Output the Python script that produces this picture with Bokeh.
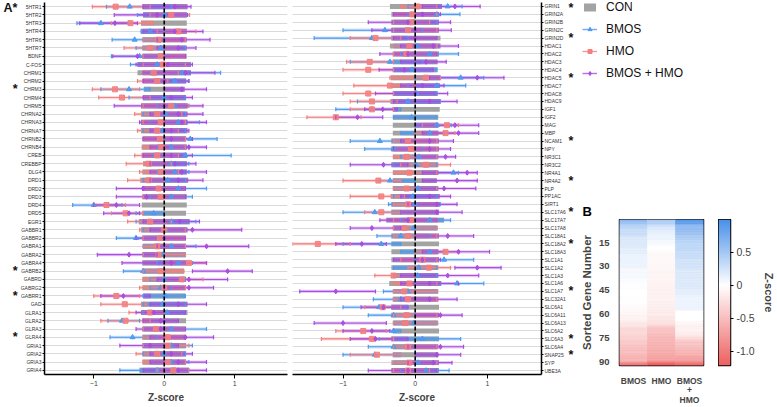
import numpy as np
from bokeh.plotting import figure
from bokeh.models import (ColumnDataSource, FactorRange, Range1d, Span, LinearAxis,
                          FixedTicker, LinearColorMapper, Legend, LegendItem)
from bokeh.layouts import row, column
from bokeh.transform import transform
from bokeh.core.properties import value
from bokeh.embed import file_html
from bokeh.resources import INLINE

FONT = "Liberation Sans"

# ---------------- data ----------------
genes = ["5HTR1", "5HTR2", "5HTR3", "5HTR4", "5HTR6", "5HTR7", "BDNF", "C-FOS", "CHRM1", "CHRM2",
         "CHRM3", "CHRM4", "CHRM5", "CHRNA2", "CHRNA3", "CHRNA7", "CHRNB2", "CHRNB4", "CREB", "CREBBP",
         "DLG4", "DRD1", "DRD2", "DRD3", "DRD4", "DRD5", "EGR1", "GABBR1", "GABBR2", "GABRA1",
         "GABRA2", "GABRA4", "GABRB2", "GABRD", "GABRG2", "GABRR1", "GAD", "GLRA1", "GLRA2", "GLRA3",
         "GLRA4", "GRIA1", "GRIA2", "GRIA3", "GRIA4",
         "GRIN1", "GRIN2A", "GRIN2B", "GRIN2C", "GRIN2D", "HDAC1", "HDAC2", "HDAC3", "HDAC4", "HDAC5",
         "HDAC7", "HDAC8", "HDAC9", "IGF1", "IGF2", "MAG", "MBP", "NCAM1", "NPY", "NR3C1",
         "NR3C2", "NR4A1", "NR4A2", "PLP", "PP1AC", "SIRT1", "SLC17A6", "SLC17A7", "SLC17A8", "SLC18A1",
         "SLC18A2", "SLC18A3", "SLC1A1", "SLC1A2", "SLC1A3", "SLC1A6", "SLC1A7", "SLC32A1", "SLC6A1", "SLC6A11",
         "SLC6A13", "SLC6A2", "SLC6A3", "SLC6A4", "SNAP25", "SYP", "UBE3A"]
n_left = 45
starred = ["5HTR1", "CHRM3", "GABRB2", "GABRR1", "GLRA4", "GRIN1", "GRIN2D", "HDAC5", "NCAM1",
           "NR4A2", "SLC17A6", "SLC18A2", "SLC1A7", "SLC6A3", "SNAP25"]

con_lo = [-0.31, -0.30, -0.33, -0.33, -0.31, -0.31, -0.31, -0.38, -0.38, -0.31,
          -0.29, -0.30, -0.33, -0.33, -0.33, -0.33, -0.31, -0.32, -0.32, -0.30,
          -0.31, -0.34, -0.31, -0.31, -0.32, -0.31, -0.36, -0.33, -0.31, -0.30,
          -0.31, -0.31, -0.31, -0.31, -0.31, -0.30, -0.33, -0.33, -0.31, -0.31,
          -0.31, -0.31, -0.31, -0.31, -0.35,
          -0.35, -0.33, -0.33, -0.33, -0.33, -0.35, -0.31, -0.31, -0.31, -0.34,
          -0.34, -0.31, -0.34, -0.31, -0.31, -0.31, -0.31, -0.33, -0.33, -0.31,
          -0.33, -0.31, -0.31, -0.31, -0.34, -0.33, -0.33, -0.40, -0.31, -0.33,
          -0.33, -0.33, -0.33, -0.33, -0.31, -0.36, -0.31, -0.31, -0.33, -0.33,
          -0.31, -0.31, -0.33, -0.31, -0.31, -0.33, -0.33]
con_hi = [0.33, 0.32, 0.32, 0.32, 0.32, 0.32, 0.32, 0.38, 0.38, 0.31,
          0.29, 0.31, 0.33, 0.33, 0.33, 0.33, 0.31, 0.32, 0.32, 0.32,
          0.32, 0.34, 0.31, 0.32, 0.32, 0.31, 0.36, 0.33, 0.31, 0.31,
          0.31, 0.32, 0.28, 0.31, 0.31, 0.30, 0.33, 0.33, 0.31, 0.31,
          0.31, 0.31, 0.31, 0.31, 0.35,
          0.37, 0.33, 0.33, 0.33, 0.35, 0.35, 0.33, 0.31, 0.31, 0.35,
          0.34, 0.31, 0.35, 0.34, 0.32, 0.32, 0.32, 0.33, 0.33, 0.32,
          0.32, 0.32, 0.30, 0.32, 0.34, 0.34, 0.33, 0.40, 0.31, 0.33,
          0.33, 0.32, 0.33, 0.32, 0.32, 0.36, 0.32, 0.32, 0.33, 0.33,
          0.32, 0.33, 0.33, 0.32, 0.32, 0.33, 0.33]

bmos_lo = [-0.82, -0.38, -1.24, -0.33, -0.74, -0.40, -0.75, -0.48, -0.20, -0.10,
           -0.90, -0.50, -0.10, -0.30, -0.20, -0.30, 0.00, -0.10, -0.15, -0.20,
           -0.10, -0.30, -0.10, -0.20, -1.30, -0.40, -0.40, -0.30, -0.68, -0.30,
           -0.30, -0.10, -0.58, -0.20, -0.20, -0.30, -0.30, -0.30, -0.80, -0.30,
           -0.77, -0.30, -0.30, -0.20, -0.63,
           -0.10, -0.10, -0.30, -1.00, -1.40, -0.30, -0.20, -0.90, -0.30, 0.00,
           -0.10, -0.30, -0.80, -1.10, -0.30, 0.00, -0.20, -0.90, -0.70, -0.20,
           -0.30, 0.00, -0.50, -0.30, -0.30, -0.37, -1.00, -0.20, -0.30, -0.53,
           -1.00, -0.20, 0.00, -0.30, -0.30, 0.00, -0.44, -0.58, -1.00, -0.65,
           -0.30, -0.60, -0.50, -0.65, -1.00, -0.30, -0.20]
bmos_mean = [-0.49, 0.00, -0.90, -0.20, -0.42, -0.05, -0.35, -0.10, 0.25, 0.15,
             -0.50, 0.00, 0.15, 0.02, 0.20, -0.02, 0.37, 0.10, 0.30, 0.10,
             0.15, 0.05, 0.20, 0.10, -1.00, -0.15, 0.10, 0.03, -0.40, 0.10,
             -0.03, 0.20, -0.30, 0.00, -0.05, 0.02, -0.02, 0.04, -0.60, 0.10,
             -0.45, 0.10, 0.00, 0.10, -0.10,
             0.45, 0.30, -0.02, -0.42, -0.60, 0.03, 0.20, -0.35, -0.04, 0.63,
             0.30, 0.02, -0.10, -0.60, -0.05, 0.30, 0.20, -0.49, -0.30, 0.05,
             0.01, 0.53, -0.35, 0.04, -0.03, 0.00, -0.56, 0.20, -0.02, -0.20,
             -0.47, 0.20, 0.40, 0.05, 0.03, 0.58, -0.10, -0.20, -0.50, -0.30,
             -0.02, -0.30, 0.10, -0.30, -0.56, 0.04, 0.15]
bmos_hi = [0.10, 0.32, -0.50, 0.00, 0.00, 0.30, 0.00, 0.30, 0.80, 0.35,
           -0.20, 0.30, 0.35, 0.30, 0.50, 0.30, 0.75, 0.35, 0.95, 0.35,
           0.35, 0.30, 0.60, 0.40, -0.60, 0.00, 0.45, 0.30, -0.10, 0.45,
           0.30, 0.40, 0.00, 0.30, 0.10, 0.30, 0.30, 0.30, -0.35, 0.60,
           -0.10, 0.40, 0.30, 0.35, 0.35,
           0.65, 0.62, 0.30, 0.10, -0.10, 0.30, 0.60, 0.10, 0.30, 0.95,
           0.70, 0.30, 0.35, -0.20, 0.30, 0.50, 0.40, -0.10, 0.10, 0.30,
           0.30, 0.60, 0.00, 0.30, 0.30, 0.35, -0.20, 0.49, 0.30, 0.20,
           -0.20, 0.40, 0.81, 0.30, 0.30, 0.95, 0.30, 0.20, -0.10, 0.00,
           0.30, -0.20, 0.63, 0.00, -0.20, 0.30, 0.47]

hmo_lo = [-1.02, -0.20, -0.75, -0.10, -0.30, -0.57, -0.30, -0.30, -0.30, -0.38,
          -1.02, -0.93, -0.30, -0.42, -0.30, -0.38, -0.30, -0.30, -0.42, -0.54,
          -0.35, -0.52, -0.30, -0.30, -1.00, -0.75, -0.52, -0.35, -0.30, -0.30,
          -0.30, 0.00, -0.30, -0.30, -0.35, -1.00, -0.90, -0.50, -0.90, -0.30,
          -0.30, -0.30, -0.40, -0.30, -0.10,
          -0.20, -0.30, -0.30, -0.30, -0.90, -0.30, -0.30, -0.95, -1.00, -0.35,
          -0.85, -1.00, -0.90, -0.90, -1.50, 0.10, 0.00, -0.30, -0.30, -0.30,
          -0.20, -0.30, -1.00, -0.30, -0.90, -0.30, -0.70, -0.30, -0.30, -0.30,
          -1.70, 0.00, -0.20, -0.10, -0.56, -0.30, -0.30, -0.30, -0.70, -0.30,
          -0.30, -1.10, -1.30, -0.30, -0.90, -0.30, -0.30]
hmo_mean = [-0.69, 0.10, -0.48, 0.20, -0.08, -0.20, -0.05, -0.02, -0.15, -0.10,
            -0.70, -0.60, 0.10, -0.10, -0.05, -0.10, -0.06, -0.04, -0.10, -0.22,
            -0.05, -0.22, -0.08, -0.05, -0.82, -0.55, -0.20, 0.00, -0.06, -0.10,
            -0.08, 0.35, -0.05, 0.25, 0.00, -0.68, -0.56, -0.20, -0.55, -0.12,
            0.05, 0.05, -0.10, 0.05, 0.13,
            0.03, -0.04, -0.05, -0.10, -0.55, -0.08, -0.12, -0.63, -0.65, 0.15,
            -0.35, -0.65, -0.60, -0.60, -1.10, 0.44, 0.42, -0.10, -0.06, -0.12,
            0.15, -0.08, -0.51, -0.12, -0.47, -0.10, -0.47, -0.06, -0.15, -0.10,
            -1.35, 0.42, 0.10, 0.19, -0.30, -0.08, -0.15, -0.10, -0.45, -0.12,
            -0.14, -0.72, -0.60, -0.10, -0.53, -0.08, -0.10]
hmo_hi = [-0.20, 0.36, -0.15, 0.45, 0.30, 0.20, 0.30, 0.30, 0.20, 0.05,
          -0.35, -0.20, 0.35, 0.25, 0.30, 0.20, 0.30, 0.30, 0.20, 0.10,
          0.20, 0.00, 0.30, 0.30, -0.55, -0.30, 0.10, 0.30, 0.30, 0.30,
          0.30, 0.60, 0.28, 0.55, 0.30, -0.35, -0.25, 0.00, -0.20, 0.30,
          0.30, 0.35, 0.25, 0.30, 0.35,
          0.30, 0.30, 0.20, 0.30, -0.20, 0.30, 0.30, -0.30, -0.30, 0.35,
          0.00, -0.30, -0.25, -0.30, -0.75, 0.60, 0.55, 0.30, 0.30, 0.30,
          0.49, 0.30, -0.20, 0.30, -0.15, 0.30, -0.20, 0.30, 0.30, 0.30,
          -0.90, 0.60, 0.30, 0.49, 0.00, 0.30, 0.30, 0.30, -0.20, 0.30,
          0.30, -0.40, -0.30, 0.30, -0.20, 0.30, 0.20]

bh_lo = [-0.30, -0.71, -1.20, -0.30, -0.10, -0.10, -0.73, -0.40, -0.30, -0.30,
         0.00, -0.30, -0.71, -0.20, -0.35, -0.20, -0.30, -0.20, -0.30, -0.20,
         -0.20, -0.20, -0.68, -0.68, -1.00, -0.86, -0.30, -0.20, -0.40, -0.10,
         -0.95, -0.60, 0.40, -0.10, 0.00, -0.90, -0.20, -0.40, -0.30, -0.40,
         -0.20, -0.63, -0.20, -0.20, -0.30,
         0.10, -0.30, -0.65, -0.60, -0.30, -0.20, -0.49, -0.20, -0.50, 0.20,
         -0.20, -0.55, -0.30, -0.70, -1.10, 0.00, 0.10, -0.20, -0.30, 0.00,
         -0.90, 0.10, 0.10, 0.00, -0.20, -0.10, -0.20, -0.49, -0.90, 0.00,
         -1.10, 0.10, -0.30, 0.55, -0.20, -0.20, -1.60, -0.20, -0.75, 0.00,
         -1.40, -1.00, -0.90, -0.10, 0.00, -0.10, -0.65]
bh_mean = [0.15, -0.10, -0.70, 0.15, 0.25, 0.20, -0.38, 0.05, 0.30, 0.00,
           0.25, 0.10, 0.00, 0.20, 0.25, 0.10, 0.10, 0.35, 0.10, 0.15,
           0.25, 0.20, -0.30, -0.25, -0.68, -0.50, 0.22, 0.40, 0.00, 0.60,
           -0.50, 0.10, 0.90, 0.35, 0.35, -0.58, 0.20, -0.15, -0.05, -0.05,
           0.30, -0.20, 0.10, 0.20, 0.20,
           0.55, 0.10, -0.10, 0.00, 0.00, 0.25, -0.10, 0.15, -0.15, 0.86,
           0.10, 0.00, 0.20, -0.45, -0.80, 0.55, 0.60, 0.20, 0.20, 0.42,
           -0.44, 0.72, 0.58, 0.40, 0.20, 0.30, 0.30, -0.10, -0.60, 0.45,
           -0.74, 0.60, 0.10, 0.86, 0.45, 0.20, -1.10, 0.20, -0.44, 0.35,
           -1.00, -0.60, -0.55, 0.35, 0.30, 0.25, -0.10]
bh_hi = [0.38, 0.33, -0.38, 0.55, 0.65, 0.45, 0.30, 0.40, 0.72, 0.35,
         0.60, 0.40, 0.55, 0.55, 0.60, 0.35, 0.40, 0.60, 0.40, 0.45,
         0.60, 0.55, 0.30, 0.30, -0.35, -0.35, 0.50, 1.10, 0.30, 1.20,
         -0.10, 0.60, 1.25, 0.90, 0.70, -0.20, 0.60, 0.30, 0.20, 0.30,
         0.70, 0.20, 0.40, 0.60, 0.60,
         0.90, 0.35, 0.49, 0.50, 0.30, 0.60, 0.30, 0.43, 0.25, 1.23,
         0.40, 0.45, 0.58, -0.25, -0.45, 0.88, 0.88, 0.53, 0.49, 0.56,
         -0.10, 0.86, 0.86, 0.84, 0.49, 0.58, 0.65, 0.30, -0.20, 0.81,
         -0.40, 1.03, 0.35, 1.19, 0.88, 0.60, -0.55, 0.58, -0.10, 0.65,
         -0.40, -0.35, -0.10, 0.67, 0.63, 0.51, 0.30]

group_names = ["BMOS", "HMO", "BMOS + HMO"]
heat_labels = ["BMOS", "HMO", "BMOS\n+\nHMO"]
x_ticks = [-1, 0, 1]
heat_ticks = [15, 30, 45, 60, 75, 90]
cbar_ticks = [-1.0, -0.5, 0, 0.5]
CB_LOW, CB_HIGH = -1.22, 1.0

# ---------------- style ----------------
CON_COLOR = "#a3a3a3"
COLORS = ["#4b9af2", "#f47f7f", "#a84ae0"]
MARKERS = ["triangle", "square", "diamond"]
X_MIN, X_MAX = -1.70, 1.75
FIG_H = 407
group_data = [(bmos_lo, bmos_mean, bmos_hi), (hmo_lo, hmo_mean, hmo_hi), (bh_lo, bh_mean, bh_hi)]


def dot_panel(sl, side, width, mb_left, mb_right, panel_letter=None):
    g = genes[sl]
    n = len(g)
    p = figure(width=width, height=FIG_H, y_range=FactorRange(factors=g[::-1]),
               x_range=Range1d(X_MIN, X_MAX), y_axis_location=side,
               min_border_left=mb_left, min_border_right=mb_right,
               min_border_top=2, min_border_bottom=33,
               output_backend="svg", toolbar_location=None)
    clo = np.array(con_lo[sl]); chi = np.array(con_hi[sl])
    p.hbar(y="gene", left="lo", right="hi", height=0.62, fill_color=CON_COLOR, line_color=None,
           source=ColumnDataSource(dict(gene=g, lo=clo, hi=chi)))
    srcs = []
    for (lo, mean, hi) in group_data:
        lo_ = np.array(lo[sl]); hi_ = np.array(hi[sl]); me = np.array(mean[sl])
        olo = np.maximum(lo_, clo)
        ohi = np.maximum(np.minimum(hi_, chi), olo)
        srcs.append(ColumnDataSource(dict(gene=g, lo=lo_, hi=hi_, mean=me, olo=olo, ohi=ohi)))
    for s, c in zip(srcs, COLORS):
        p.hbar(y="gene", left="olo", right="ohi", height=0.62, fill_color=c, fill_alpha=0.42,
               line_color=None, source=s)
    for s, c in zip(srcs, COLORS):
        p.segment(x0="lo", y0="gene", x1="hi", y1="gene", line_color=c, line_width=3.2,
                  line_alpha=0.28, source=s)
        p.segment(x0="lo", y0="gene", x1="hi", y1="gene", line_color=c, line_width=1.1,
                  line_alpha=0.95, source=s)
    for s, c, m in zip(srcs, COLORS, MARKERS):
        for f in ("lo", "hi"):
            p.scatter(x=f, y="gene", marker="dash", angle=np.pi / 2, size=4, line_color=c,
                      line_width=1.2, source=s)
        p.scatter(x="mean", y="gene", marker=m, size=5, fill_color=c, line_color=c,
                  fill_alpha=0.85, source=s)
    p.add_layout(Span(location=0, dimension="height", line_color="black",
                      line_dash="4 2", line_width=1.6))
    # axes
    p.xaxis.ticker = FixedTicker(ticks=x_ticks)
    p.xaxis.axis_label = "Z-score"
    p.xaxis.axis_label_text_font = FONT
    p.xaxis.axis_label_text_font_style = "bold"
    p.xaxis.axis_label_text_font_size = "10px"
    p.xaxis.axis_label_standoff = 3
    p.xaxis.major_label_text_font = FONT
    p.xaxis.major_label_text_font_size = "7px"
    p.xaxis.major_label_standoff = 2
    p.xaxis.major_tick_out = 4
    p.xaxis.major_tick_in = 0
    p.xaxis.minor_tick_line_color = None
    p.axis.axis_line_width = 1.5
    p.axis.axis_line_color = "black"
    p.yaxis.major_label_text_font = FONT
    p.yaxis.major_label_text_font_size = "5px"
    p.yaxis.major_label_text_color = "#333333"
    p.yaxis.major_label_standoff = 1
    p.yaxis.major_tick_out = 2
    p.yaxis.major_tick_in = 0
    # outer axis carrying the significance stars (and the panel letter);
    # rows sit at synthetic positions n-1-i+0.5 of the reversed factor range
    pos, over = [], {}
    for i, x in enumerate(g):
        t = "*" if x in starred else None
        if panel_letter and i == 0:
            t = panel_letter + (t or "")
        if t:
            y = n - 1 - i + 0.5
            pos.append(y)
            over[y] = t
    star_axis = LinearAxis(ticker=FixedTicker(ticks=pos), major_label_overrides=over,
                           axis_line_color=None, major_tick_line_color=None,
                           minor_tick_line_color=None, major_label_standoff=0,
                           major_tick_out=0, major_tick_in=0, minor_tick_out=0, minor_tick_in=0,
                           major_label_text_font=FONT, major_label_text_font_style="bold",
                           major_label_text_font_size="12.5px", major_label_text_color="#111111")
    p.add_layout(star_axis, side)
    p.xgrid.grid_line_color = None
    p.ygrid.grid_line_color = "#dadada"
    p.ygrid.grid_line_width = 1
    p.outline_line_color = None
    return p


left = dot_panel(slice(0, n_left), "left", 289, 40, 2, "A")
right = dot_panel(slice(n_left, len(genes)), "right", 288, 3, 36)

# ---------------- legend (and panel letter B) ----------------
lp = figure(width=200, height=219, x_range=Range1d(0, 1), y_range=Range1d(0, 1),
            min_border=0, min_border_left=5, output_backend="svg", toolbar_location=None)
lp.axis.visible = False
lp.grid.grid_line_color = None
lp.outline_line_color = None
# legend proxies (kept outside the visible range)
r_con = lp.quad(left=[-3], right=[-2], top=[-2], bottom=[-3], fill_color=CON_COLOR, line_color=None)
items = [LegendItem(label="CON", renderers=[r_con])]
for name, c, m in zip(group_names, COLORS, MARKERS):
    rl = lp.line(x=[-3, -2], y=[-3, -3], line_color=c, line_width=1.4, line_alpha=0.8)
    rm = lp.scatter(x=[-3], y=[-3], marker=m, size=5, fill_color=c, line_color=c)
    items.append(LegendItem(label=name, renderers=[rl, rm]))
leg = Legend(items=items, location="top_left", margin=0, padding=0, spacing=8,
             glyph_width=15, glyph_height=10, label_height=10, label_standoff=9,
             label_text_font=FONT, label_text_font_size="12px", label_text_color="#111111",
             border_line_color=None, background_fill_alpha=0)
lp.add_layout(leg)
lp.text(x=[0], y=[0], text=["B"], text_font=value(FONT), text_font_style="bold",
        text_font_size="13px", text_baseline="bottom", text_align="left", y_offset=-1)

# ---------------- heatmap ----------------
def make_palette(n=256):
    blue = np.array([74, 144, 232]); red = np.array([238, 96, 96]); white = np.array([255, 255, 255])
    vals = np.linspace(CB_LOW, CB_HIGH, n)
    out = []
    for v in vals:
        if v >= 0:
            t = v / CB_HIGH; col = white + (blue - white) * t
        else:
            t = v / CB_LOW; col = white + (red - white) * t
        out.append("#%02x%02x%02x" % tuple(int(round(c)) for c in col))
    return out

mapper = LinearColorMapper(palette=make_palette(), low=CB_LOW, high=CB_HIGH)

xs, ranks, zs = [], [], []
for ci, (lo, mean, hi) in enumerate(group_data):
    srt = sorted(mean, reverse=True)
    for i, z in enumerate(srt):
        xs.append(ci + 0.5); ranks.append(i + 1); zs.append(z)
hsrc = ColumnDataSource(dict(x=xs, rank=ranks, z=zs))

hp = figure(width=141, height=188, x_range=Range1d(0, len(heat_labels)),
            y_range=Range1d(len(genes) + 0.5, 0.5),
            min_border_left=36, min_border_right=15, min_border_top=0, min_border_bottom=34,
            output_backend="svg", toolbar_location=None)
hp.rect(x="x", y="rank", width=1, height=1, source=hsrc,
        fill_color=transform("z", mapper), line_color=transform("z", mapper), line_width=0.6)
hp.outline_line_color = "black"
hp.outline_line_width = 1.5
hp.grid.grid_line_color = None
hp.axis.axis_line_color = None
hp.axis.major_tick_line_color = None
hp.axis.minor_tick_line_color = None
hp.xaxis.ticker = FixedTicker(ticks=[i + 0.5 for i in range(len(heat_labels))])
hp.xaxis.major_label_overrides = {i + 0.5: lab for i, lab in enumerate(heat_labels)}
hp.xaxis.major_label_text_line_height = 0.95
hp.yaxis.ticker = FixedTicker(ticks=heat_ticks)
hp.yaxis.axis_label = "Sorted Gene Number"
hp.yaxis.axis_label_text_font = FONT
hp.yaxis.axis_label_text_font_style = "bold"
hp.yaxis.axis_label_text_font_size = "11.5px"
hp.yaxis.axis_label_standoff = 3
hp.axis.major_label_text_font = FONT
hp.axis.major_label_text_font_style = "bold"
hp.yaxis.major_label_text_font_size = "9.5px"
hp.xaxis.major_label_text_font_size = "8.5px"
hp.yaxis.major_label_standoff = 4
hp.xaxis.major_label_standoff = 4

grad = np.linspace(CB_LOW, CB_HIGH, 256).reshape(-1, 1)
cp = figure(width=59, height=188, x_range=Range1d(0, 1), y_range=Range1d(CB_LOW, CB_HIGH),
            y_axis_location="right", min_border_left=0, min_border_right=43,
            min_border_top=0, min_border_bottom=34, output_backend="svg", toolbar_location=None)
cp.image(image=[grad], x=0, y=CB_LOW, dw=1, dh=CB_HIGH - CB_LOW, color_mapper=mapper)
cp.xaxis.visible = False
cp.grid.grid_line_color = None
cp.outline_line_color = "black"
cp.outline_line_width = 1.5
cp.yaxis.ticker = FixedTicker(ticks=cbar_ticks)
cp.yaxis.major_label_overrides = {0: "0", -1.0: "-1.0", -0.5: "-0.5", 0.5: "0.5"}
cp.yaxis.axis_line_color = None
cp.yaxis.major_tick_out = 3
cp.yaxis.major_tick_in = 0
cp.yaxis.minor_tick_line_color = None
cp.yaxis.major_label_text_font = FONT
cp.yaxis.major_label_text_font_size = "10.5px"
cp.yaxis.major_label_standoff = 3
cp.yaxis.axis_label = "Z-score"
cp.yaxis.axis_label_text_font = FONT
cp.yaxis.axis_label_text_font_style = "bold"
cp.yaxis.axis_label_text_font_size = "11px"
cp.yaxis.axis_label_standoff = 5

layout = row(left, right, column(lp, row(hp, cp)))
open("out.html", "w").write(file_html(layout, INLINE))
